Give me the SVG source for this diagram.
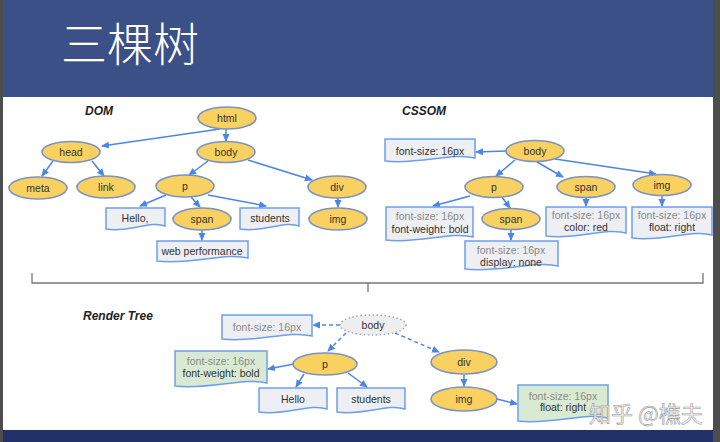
<svg xmlns="http://www.w3.org/2000/svg" width="720" height="442" viewBox="0 0 720 442">
<defs>
<marker id="ah" markerWidth="8" markerHeight="8" refX="7" refY="4" orient="auto" markerUnits="userSpaceOnUse">
<path d="M0,0.5 L8,4 L0,7.5 Z" fill="#4a86e8"/>
</marker>
<style>
.el{fill:#f9d160;stroke:#7a93c2;stroke-width:1.6}
.bx{fill:#eeeff2;stroke:#6d9eeb;stroke-width:1.5}
.gb{fill:#d9ead3;stroke:#6d9eeb;stroke-width:1.5}
.t{font-family:"Liberation Sans",Arial,sans-serif;font-size:10.5px;fill:#333;text-anchor:middle}
.g{fill:#8a8a8a}
.lbl{font-family:"Liberation Sans",Arial,sans-serif;font-size:12px;font-weight:bold;font-style:italic;fill:#222}
.c{fill:none;stroke:#4a86e8;stroke-width:1.5;marker-end:url(#ah)}
.d{stroke-dasharray:4,3}
</style>
</defs>
<rect x="0" y="0" width="720" height="442" fill="#ffffff"/>
<rect x="0" y="0" width="720" height="97" fill="#3b5087"/>
<rect x="0" y="430" width="720" height="12" fill="#233169"/>
<rect x="0" y="0" width="3" height="442" fill="#4d4d4d"/>
<rect x="713" y="0" width="7" height="442" fill="#4d4d4d"/>
<text x="61" y="61" font-family="'Noto Sans CJK SC',sans-serif" font-size="46" font-weight="300" fill="#ffffff">三棵树</text>

<text class="lbl" x="85" y="115">DOM</text>
<text class="lbl" x="402" y="115">CSSOM</text>
<text class="lbl" x="83" y="320">Render Tree</text>

<path d="M32,273 V283 H703 V273 M368,283 V292" fill="none" stroke="#777" stroke-width="1.3"/>

<g id="connectors">
<line class="c" x1="220" y1="129" x2="102" y2="146"/>
<line class="c" x1="226" y1="129" x2="226" y2="141"/>
<line class="c" x1="53" y1="161" x2="42" y2="176"/>
<line class="c" x1="92" y1="161" x2="104" y2="176"/>
<line class="c" x1="208" y1="161" x2="189" y2="175"/>
<line class="c" x1="248" y1="160" x2="312" y2="180"/>
<line class="c" x1="166" y1="195" x2="140" y2="206"/>
<line class="c" x1="191" y1="197" x2="200" y2="207"/>
<line class="c" x1="208" y1="195" x2="266" y2="206"/>
<line class="c" x1="202" y1="230" x2="202" y2="240"/>
<line class="c" x1="338" y1="198" x2="338" y2="207"/>

<line class="c" x1="507" y1="151" x2="476" y2="152"/>
<line class="c" x1="515" y1="160" x2="496" y2="176"/>
<line class="c" x1="537" y1="162" x2="563" y2="177"/>
<line class="c" x1="555" y1="159" x2="656" y2="174"/>
<line class="c" x1="470" y1="196" x2="433" y2="206"/>
<line class="c" x1="502" y1="197" x2="510" y2="208"/>
<line class="c" x1="511" y1="229" x2="511" y2="240"/>
<line class="c" x1="586" y1="198" x2="586" y2="206"/>
<line class="c" x1="662" y1="196" x2="662" y2="206"/>

<line class="c d" x1="340" y1="325" x2="313" y2="325"/>
<line class="c d" x1="346" y1="333" x2="328" y2="351"/>
<line class="c d" x1="395" y1="333" x2="439" y2="352"/>
<line class="c" x1="294" y1="364" x2="268" y2="369"/>
<line class="c" x1="304" y1="374" x2="296" y2="387"/>
<line class="c" x1="348" y1="373" x2="367" y2="387"/>
<line class="c" x1="464" y1="375" x2="464" y2="386"/>
<line class="c" x1="497" y1="399" x2="517" y2="404"/>
</g>

<g id="dom-html"><ellipse class="el" cx="227" cy="118" rx="29" ry="11"/><text class="t" x="227" y="122">html</text></g>
<g id="dom-head"><ellipse class="el" cx="71" cy="152" rx="29" ry="10.5"/><text class="t" x="71" y="156">head</text></g>
<g id="dom-body"><ellipse class="el" cx="226" cy="152" rx="29" ry="10.5"/><text class="t" x="226" y="156">body</text></g>
<g id="dom-meta"><ellipse class="el" cx="38" cy="188" rx="29" ry="11"/><text class="t" x="38" y="192">meta</text></g>
<g id="dom-link"><ellipse class="el" cx="106" cy="187" rx="29" ry="11"/><text class="t" x="106" y="191">link</text></g>
<g id="dom-p"><ellipse class="el" cx="185" cy="186" rx="29" ry="11"/><text class="t" x="185" y="190">p</text></g>
<g id="dom-div"><ellipse class="el" cx="337" cy="187" rx="29" ry="11"/><text class="t" x="337" y="191">div</text></g>
<g id="dom-img"><ellipse class="el" cx="338" cy="219" rx="29" ry="11"/><text class="t" x="338" y="223">img</text></g>
<g id="dom-span"><ellipse class="el" cx="202" cy="219" rx="29" ry="11"/><text class="t" x="202" y="223">span</text></g>
<g id="dom-hello"><path class="bx" d="M106,208 H165 V226 C150,220 130,233 106,229 Z"/><text class="t" x="135" y="222">Hello,</text></g>
<g id="dom-students"><path class="bx" d="M240,208 H299 V226 C284,220 264,233 240,229 Z"/><text class="t" x="270" y="222">students</text></g>
<g id="dom-webperf"><path class="bx" d="M157,241 H248 V258 C225,252 194,265 157,261 Z"/><text class="t" x="202" y="255">web performance</text></g>

<g id="css-body"><ellipse class="el" cx="535" cy="151" rx="29" ry="10.5"/><text class="t" x="535" y="155">body</text></g>
<g id="css-fs"><path class="bx" d="M385,139 H475 V158 C452,152 420,165 385,161 Z"/><text class="t" x="430" y="155">font-size: 16px</text></g>
<g id="css-p"><ellipse class="el" cx="494" cy="187" rx="29" ry="10.5"/><text class="t" x="494" y="191">p</text></g>
<g id="css-span"><ellipse class="el" cx="586" cy="187" rx="29" ry="10.5"/><text class="t" x="586" y="191">span</text></g>
<g id="css-img"><ellipse class="el" cx="662" cy="185" rx="29" ry="10.5"/><text class="t" x="662" y="189">img</text></g>
<g id="css-span2"><ellipse class="el" cx="511" cy="219" rx="29" ry="10.5"/><text class="t" x="511" y="223">span</text></g>
<g id="css-p-box"><path class="bx" d="M386,207 H473 V237 C451,231 420,244 386,240 Z"/><text class="t g" x="430" y="220">font-size: 16px</text><text class="t" x="430" y="233">font-weight: bold</text></g>
<g id="css-span2-box"><path class="bx" d="M465,241 H558 V266 C535,260 502,273 465,269 Z"/><text class="t g" x="511" y="254">font-size: 16px</text><text class="t" x="511" y="266">display: none</text></g>
<g id="css-span-box"><path class="bx" d="M546,207 H626 V233 C606,227 578,240 546,236 Z"/><text class="t g" x="586" y="219">font-size: 16px</text><text class="t" x="586" y="231">color: red</text></g>
<g id="css-img-box"><path class="bx" d="M632,207 H712 V235 C692,229 664,242 632,238 Z"/><text class="t g" x="672" y="219">font-size: 16px</text><text class="t" x="672" y="231">float: right</text></g>

<g id="rt-body"><ellipse cx="373" cy="325" rx="33" ry="10" fill="#eeeeee" stroke="#9aa7bf" stroke-width="1.5" stroke-dasharray="1.5,2.5"/><text class="t" x="373" y="329">body</text></g>
<g id="rt-fs"><path class="bx" d="M222,315 H312 V336 C289,330 257,343 222,339 Z"/><text class="t g" x="267" y="331">font-size: 16px</text></g>
<g id="rt-p"><ellipse class="el" cx="325" cy="364" rx="32" ry="11"/><text class="t" x="325" y="368">p</text></g>
<g id="rt-p-box"><path class="gb" d="M175,351 H267 V383 C244,377 211,390 175,386 Z"/><text class="t g" x="221" y="365">font-size: 16px</text><text class="t" x="221" y="377">font-weight: bold</text></g>
<g id="rt-hello"><path class="bx" d="M259,388 H327 V409 C310,403 286,416 259,412 Z"/><text class="t" x="293" y="403">Hello</text></g>
<g id="rt-students"><path class="bx" d="M337,388 H405 V409 C388,403 364,416 337,412 Z"/><text class="t" x="371" y="403">students</text></g>
<g id="rt-div"><ellipse class="el" cx="464" cy="362" rx="33" ry="12"/><text class="t" x="464" y="366">div</text></g>
<g id="rt-img"><ellipse class="el" cx="464" cy="399" rx="33" ry="12"/><text class="t" x="464" y="403">img</text></g>
<g id="rt-img-box"><path class="gb" d="M518,385 H608 V418 C585,412 553,425 518,421 Z"/><text class="t g" x="563" y="400">font-size: 16px</text><text class="t" x="563" y="411">float: right</text></g>

<text x="589" y="422" font-family="'Noto Sans CJK SC',sans-serif" font-size="22" fill="#f4f4f4" fill-opacity="0.9" stroke="#9a9a9a" stroke-width="0.6">知乎 @樵夫</text>
</svg>
